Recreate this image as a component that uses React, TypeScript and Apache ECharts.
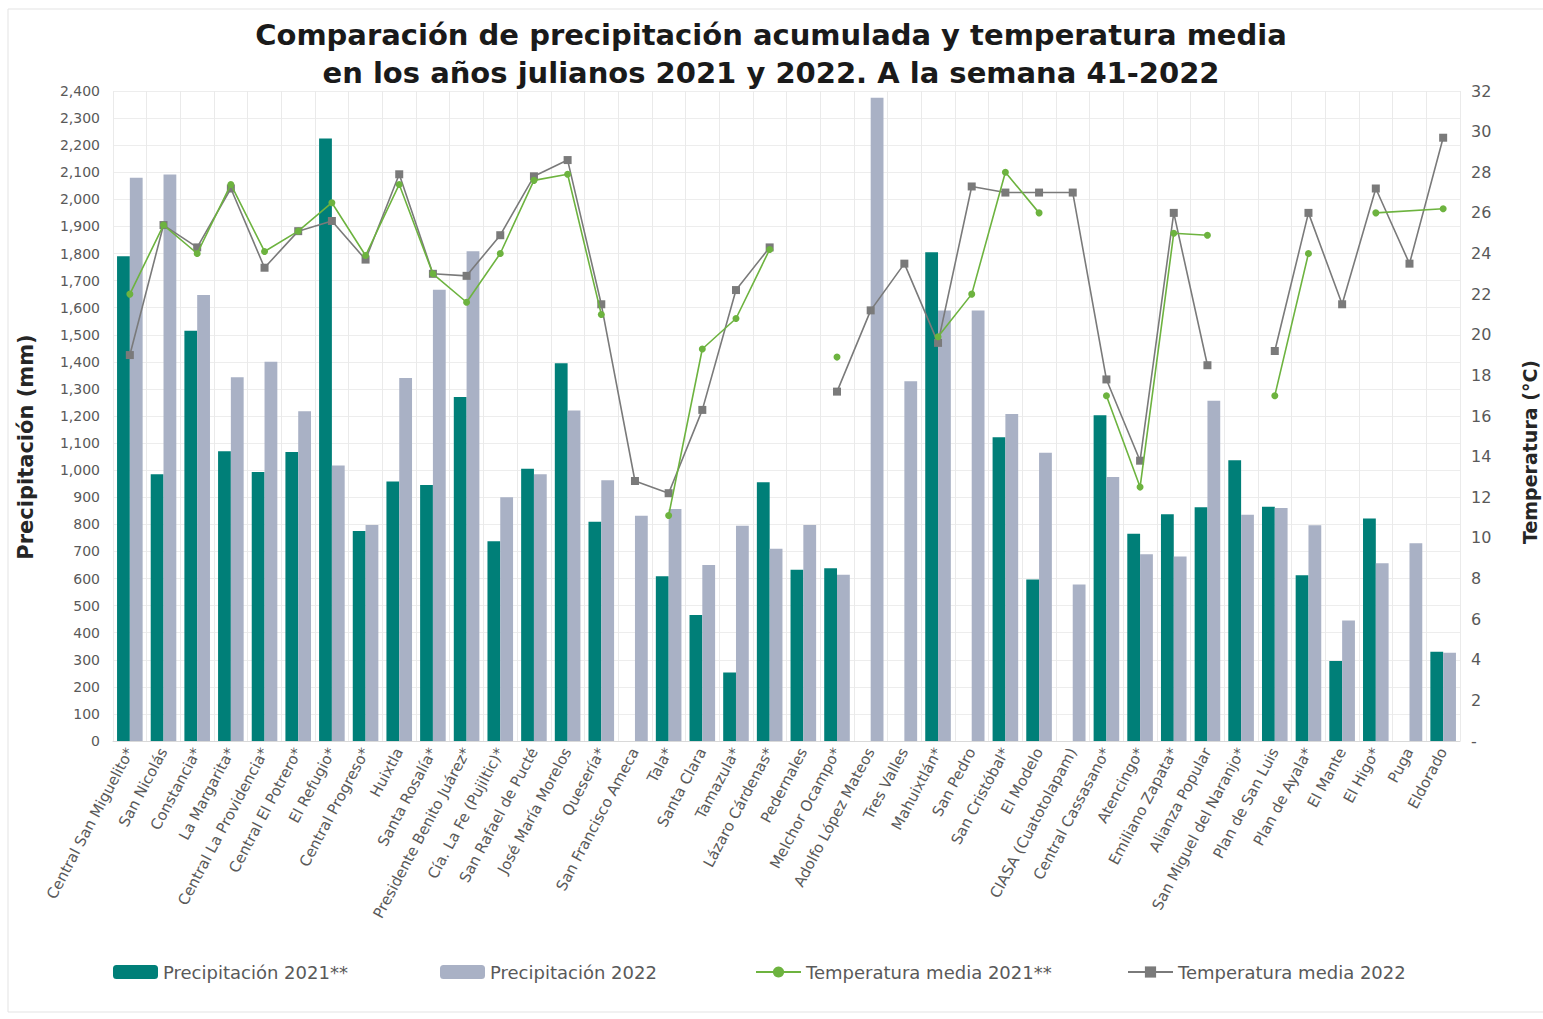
import React, { useEffect, useRef } from "react";
import * as echarts from "echarts";

const categories = [
  "Central San Miguelito*", "San Nicolás", "Constancia*", "La Margarita*", "Central La Providencia*",
  "Central El Potrero*", "El Refugio*", "Central Progreso*", "Huixtla", "Santa Rosalía*",
  "Presidente Benito Juárez*", "Cía. La Fe (Pujiltic)*", "San Rafael de Pucté", "José María Morelos", "Quesería*",
  "San Francisco Ameca", "Tala*", "Santa Clara", "Tamazula*", "Lázaro Cárdenas*",
  "Pedernales", "Melchor Ocampo*", "Adolfo López Mateos", "Tres Valles", "Mahuixtlán*",
  "San Pedro", "San Cristóbal*", "El Modelo", "CIASA (Cuatotolapam)", "Central Cassasano*",
  "Atencingo*", "Emiliano Zapata*", "Alianza Popular", "San Miguel del Naranjo*", "Plan de San Luis",
  "Plan de Ayala*", "El Mante", "El Higo*", "Puga", "Eldorado",
];

const precip2021 = [
  1790, 985, 1515, 1070, 993, 1067, 2225, 775, 958, 945,
  1270, 738, 1005, 1395, 810, null, 608, 465, 253, 955,
  632, 638, null, null, 1805, null, 1122, 596, null, 1203,
  765, 837, 863, 1037, 865, 612, 295, 822, null, 330,
];

const precip2022 = [
  2080, 2092, 1647, 1343, 1400, 1218, 1017, 798, 1340, 1666,
  1808, 900, 985, 1220, 963, 832, 857, 650, 795, 710,
  798, 614, 2375, 1328, 1590, 1590, 1207, 1064, 578, 975,
  690, 681, 1256, 835, 860, 797, 445, 656, 730, 326,
];

const temp2021 = [
  22.0, 25.4, 24.0, 27.4, 24.1, 25.1, 26.5, 23.9, 27.4, 23.0,
  21.6, 24.0, 27.6, 27.9, 21.0, null, 11.1, 19.3, 20.8, 24.2,
  null, 18.9, null, null, 19.9, 22.0, 28.0, 26.0, null, 17.0,
  12.5, 25.0, 24.9, null, 17.0, 24.0, null, 26.0, null, 26.2,
];

const temp2022 = [
  19.0, 25.4, 24.3, 27.2, 23.3, 25.1, 25.6, 23.7, 27.9, 23.0,
  22.9, 24.9, 27.8, 28.6, 21.5, 12.8, 12.2, 16.3, 22.2, 24.3,
  null, 17.2, 21.2, 23.5, 19.6, 27.3, 27.0, 27.0, 27.0, 17.8,
  13.8, 26.0, 18.5, null, 19.2, 26.0, 21.5, 27.2, 23.5, 29.7,
];

// indices whose 2021 temperature points are joined across a gap in the original
const joined2021 = [37, 39];

const seriesNames = [
  "Precipitación 2021**",
  "Precipitación 2022",
  "Temperatura media 2021**",
  "Temperatura media 2022",
];

const TEAL = "#007F78";
const LAVENDER = "#A9B1C5";
const GREEN = "#6DB33F";
const GREY = "#7A7A7A";
const FONT = "'DejaVu Sans', 'Open Sans', sans-serif";

export default function App() {
  const ref = useRef<HTMLDivElement>(null);

  useEffect(() => {
    if (!ref.current) return;
    const chart = echarts.init(ref.current, null, { renderer: "svg" });

    const joinedData = temp2021.map((v, i) => (joined2021.includes(i) ? v : null));

    const legendBase = {
      top: 958,
      textStyle: { fontSize: 18, color: "#595959", fontFamily: FONT },
      itemWidth: 45,
      itemHeight: 14,
    };

    chart.setOption({
      animation: false,
      backgroundColor: "#ffffff",
      textStyle: { fontFamily: FONT },
      title: {
        text: "Comparación de precipitación acumulada y temperatura media\nen los años julianos 2021 y 2022. A la semana 41-2022",
        left: 766,
        textAlign: "center",
        top: 11,
        textStyle: {
          fontSize: 29,
          fontWeight: "bold",
          color: "#1a1a1a",
          lineHeight: 38,
          fontFamily: FONT,
        },
      },
      legend: [
        { ...legendBase, left: 108, data: [seriesNames[0]] },
        { ...legendBase, left: 435, data: [seriesNames[1]] },
        { ...legendBase, left: 750, data: [seriesNames[2]] },
        { ...legendBase, left: 1122, data: [seriesNames[3]] },
      ],
      grid: { left: 113, right: 83, top: 91, bottom: 278 },
      xAxis: {
        type: "category",
        data: categories,
        axisLine: { lineStyle: { color: "#D9D9D9" } },
        axisTick: { show: false },
        splitLine: { show: true, lineStyle: { color: "#EAEAEA", width: 1 } },
        axisLabel: {
          interval: 0,
          rotate: 62,
          fontSize: 15,
          color: "#595959",
          margin: 8,
          fontFamily: FONT,
        },
      },
      yAxis: [
        {
          type: "value",
          min: 0,
          max: 2400,
          interval: 100,
          axisLine: { show: false },
          axisTick: { show: false },
          splitLine: { lineStyle: { color: "#EDEDED" } },
          axisLabel: { fontSize: 14, color: "#595959", margin: 13, fontFamily: FONT },
        },
        {
          type: "value",
          min: 0,
          max: 32,
          interval: 2,
          axisLine: { show: false },
          axisTick: { show: false },
          splitLine: { show: false },
          axisLabel: {
            fontSize: 16,
            color: "#595959",
            margin: 11,
            fontFamily: FONT,
            formatter: (v: number) => (v === 0 ? "-" : String(v)),
          },
        },
      ],
      series: [
        {
          name: seriesNames[0],
          type: "bar",
          data: precip2021,
          itemStyle: { color: TEAL },
          barGap: "0%",
          barCategoryGap: "24%",
        },
        {
          name: seriesNames[1],
          type: "bar",
          data: precip2022,
          itemStyle: { color: LAVENDER },
          barGap: "0%",
          barCategoryGap: "24%",
        },
        {
          name: seriesNames[2],
          type: "line",
          yAxisIndex: 1,
          data: temp2021,
          connectNulls: false,
          symbol: "circle",
          symbolSize: 7,
          itemStyle: { color: GREEN },
          lineStyle: { color: GREEN, width: 1.6 },
          z: 5,
        },
        {
          name: seriesNames[2],
          type: "line",
          yAxisIndex: 1,
          data: joinedData,
          connectNulls: true,
          symbol: "none",
          itemStyle: { color: GREEN },
          lineStyle: { color: GREEN, width: 1.6 },
          z: 5,
        },
        {
          name: seriesNames[3],
          type: "line",
          yAxisIndex: 1,
          data: temp2022,
          connectNulls: false,
          symbol: "rect",
          symbolSize: 8,
          itemStyle: { color: GREY },
          lineStyle: { color: GREY, width: 1.6 },
          z: 4,
        },
      ],
      graphic: [
        {
          type: "rect",
          shape: { x: 8, y: 9, width: 1600, height: 1003 },
          style: { fill: "none", stroke: "#E3E3E3", lineWidth: 1 },
          silent: true,
          z: -1,
        },
        {
          type: "text",
          x: 26,
          y: 447,
          rotation: Math.PI / 2,
          style: {
            text: "Precipitación (mm)",
            fontSize: 21,
            fontWeight: "bold",
            fontFamily: FONT,
            fill: "#262626",
            align: "center",
            verticalAlign: "middle",
          },
          silent: true,
        },
        {
          type: "text",
          x: 1530,
          y: 452,
          rotation: Math.PI / 2,
          style: {
            text: "Temperatura (°C)",
            fontSize: 19,
            fontWeight: "bold",
            fontFamily: FONT,
            fill: "#262626",
            align: "center",
            verticalAlign: "middle",
          },
          silent: true,
        },
      ],
    });

    return () => chart.dispose();
  }, []);

  return (
    <div
      ref={ref}
      style={{ position: "fixed", left: 0, top: 0, width: 1543, height: 1019 }}
    />
  );
}
